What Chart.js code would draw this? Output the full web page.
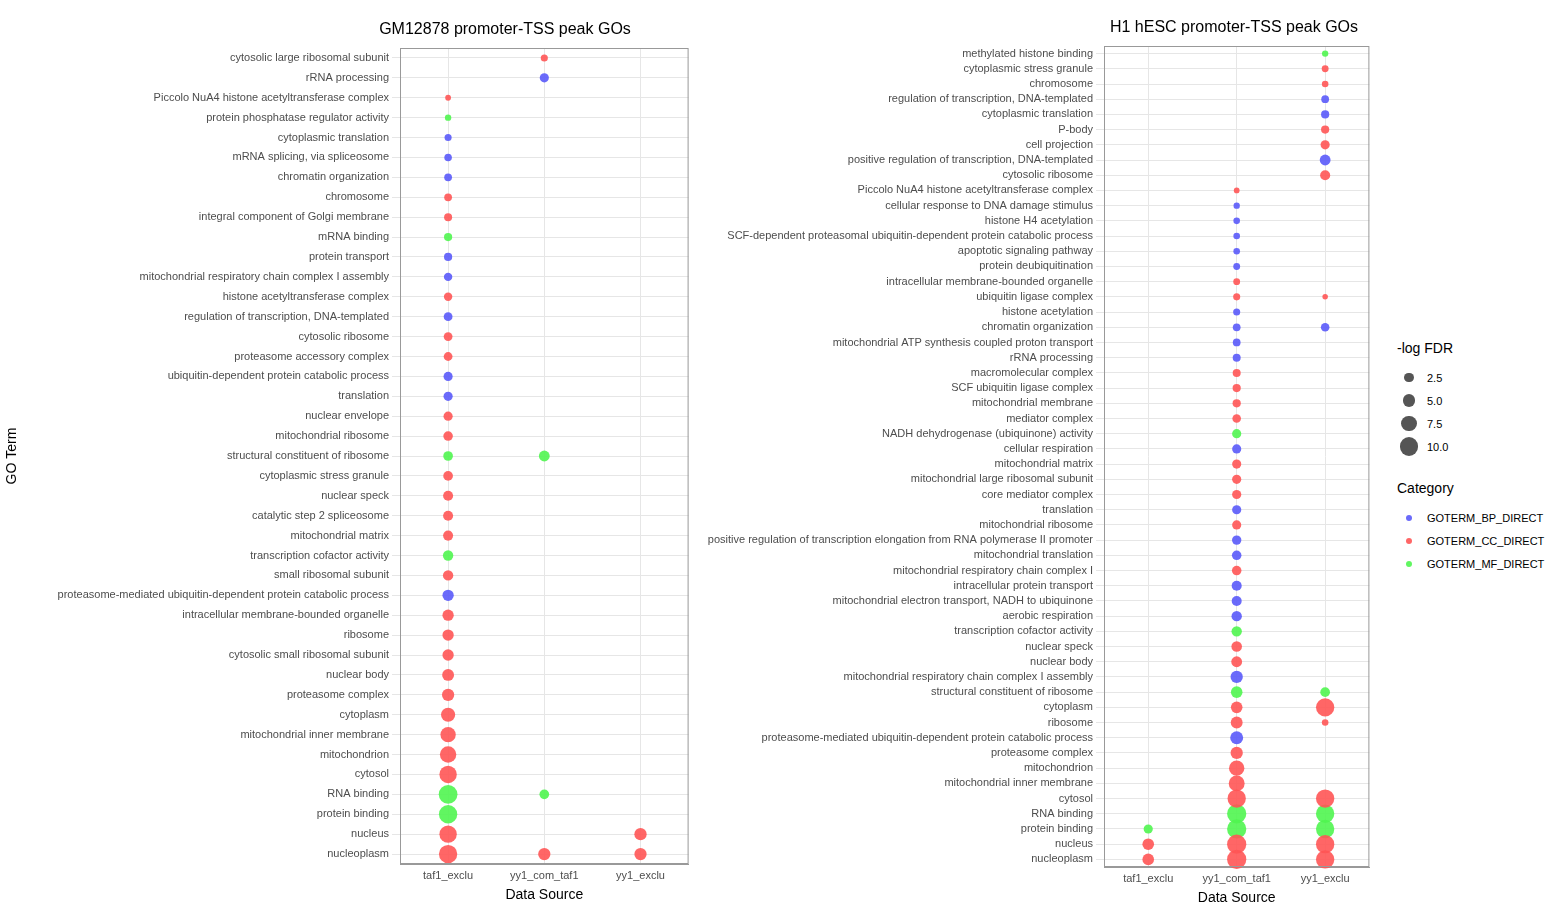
<!DOCTYPE html>
<html><head><meta charset="utf-8">
<script src="https://cdn.jsdelivr.net/npm/chart.js@4"></script>
<style>
body{margin:0;background:#fff;font-family:"Liberation Sans",Arial,sans-serif;}
.c{position:absolute;top:0;height:910px;}
.t{position:absolute;font-size:16px;color:#000;white-space:nowrap;transform:translateX(-50%);}
#legend{position:absolute;left:1397px;top:340px;font-size:11px;color:#000;}
#legend h4{margin:0 0 10px 0;font-size:14px;font-weight:normal;}
.row{display:flex;align-items:center;height:23px;}
.sw{width:24px;display:flex;justify-content:center;align-items:center;margin-right:6px;}
.sw span{display:block;border-radius:50%;}
</style></head><body>
<div class="c" style="left:0;width:698px"><canvas id="left"></canvas></div>
<div class="c" style="left:700px;width:679px"><canvas id="right"></canvas></div>
<div class="t" style="left:505px;top:20px">GM12878 promoter-TSS peak GOs</div>
<div class="t" style="left:1234px;top:18px">H1 hESC promoter-TSS peak GOs</div>
<div id="legend"></div>
<script>
const sources=["taf1_exclu","yy1_com_taf1","yy1_exclu"];
const catNames=["GOTERM_BP_DIRECT","GOTERM_CC_DIRECT","GOTERM_MF_DIRECT"];
const catColors=["rgba(90,90,250,0.9)","rgba(255,85,85,0.9)","rgba(80,245,80,0.9)"];

// left panel: GM12878
const leftTerms=["cytosolic large ribosomal subunit","rRNA processing","Piccolo NuA4 histone acetyltransferase complex","protein phosphatase regulator activity","cytoplasmic translation","mRNA splicing, via spliceosome","chromatin organization","chromosome","integral component of Golgi membrane","mRNA binding","protein transport","mitochondrial respiratory chain complex I assembly","histone acetyltransferase complex","regulation of transcription, DNA-templated","cytosolic ribosome","proteasome accessory complex","ubiquitin-dependent protein catabolic process","translation","nuclear envelope","mitochondrial ribosome","structural constituent of ribosome","cytoplasmic stress granule","nuclear speck","catalytic step 2 spliceosome","mitochondrial matrix","transcription cofactor activity","small ribosomal subunit","proteasome-mediated ubiquitin-dependent protein catabolic process","intracellular membrane-bounded organelle","ribosome","cytosolic small ribosomal subunit","nuclear body","proteasome complex","cytoplasm","mitochondrial inner membrane","mitochondrion","cytosol","RNA binding","protein binding","nucleus","nucleoplasm"];
const leftCat=[1,0,1,2,0,0,0,1,1,2,0,0,1,0,1,1,0,0,1,1,2,1,1,1,1,2,1,0,1,1,1,1,1,1,1,1,1,2,2,1,1];
const leftTaf1=[null,null,1.0,1.2,1.5,1.7,1.8,1.8,1.9,2.0,2.0,2.1,2.1,2.3,2.3,2.3,2.5,2.5,2.5,2.7,2.8,2.8,3.0,3.0,3.0,3.2,3.2,3.8,3.8,3.8,3.8,4.2,4.5,6.0,7.0,8.0,9.0,10.5,10.0,9.0,10.0];
const leftYyCom={"cytosolic large ribosomal subunit":1.5,"rRNA processing":2.5,"structural constituent of ribosome":3.5,"RNA binding":2.8,"nucleoplasm":4.5};
const leftYyExclu={"nucleus":4.5,"nucleoplasm":4.5};

// right panel: H1 hESC
const rightTerms=["methylated histone binding","cytoplasmic stress granule","chromosome","regulation of transcription, DNA-templated","cytoplasmic translation","P-body","cell projection","positive regulation of transcription, DNA-templated","cytosolic ribosome","Piccolo NuA4 histone acetyltransferase complex","cellular response to DNA damage stimulus","histone H4 acetylation","SCF-dependent proteasomal ubiquitin-dependent protein catabolic process","apoptotic signaling pathway","protein deubiquitination","intracellular membrane-bounded organelle","ubiquitin ligase complex","histone acetylation","chromatin organization","mitochondrial ATP synthesis coupled proton transport","rRNA processing","macromolecular complex","SCF ubiquitin ligase complex","mitochondrial membrane","mediator complex","NADH dehydrogenase (ubiquinone) activity","cellular respiration","mitochondrial matrix","mitochondrial large ribosomal subunit","core mediator complex","translation","mitochondrial ribosome","positive regulation of transcription elongation from RNA polymerase II promoter","mitochondrial translation","mitochondrial respiratory chain complex I","intracellular protein transport","mitochondrial electron transport, NADH to ubiquinone","aerobic respiration","transcription cofactor activity","nuclear speck","nuclear body","mitochondrial respiratory chain complex I assembly","structural constituent of ribosome","cytoplasm","ribosome","proteasome-mediated ubiquitin-dependent protein catabolic process","proteasome complex","mitochondrion","mitochondrial inner membrane","cytosol","RNA binding","protein binding","nucleus","nucleoplasm"];
const rightCat=[2,1,1,0,0,1,1,0,1,1,0,0,0,0,0,1,1,0,0,0,0,1,1,1,1,2,0,1,1,1,0,1,0,0,1,0,0,0,2,1,1,0,2,1,1,0,1,1,1,1,2,2,1,1];
const rightTaf1={"protein binding":2.5,"nucleus":4.0,"nucleoplasm":4.0};
const rightYyCom=[null,null,null,null,null,null,null,null,null,1.0,1.2,1.3,1.3,1.3,1.4,1.4,1.5,1.5,1.8,1.8,1.9,1.9,2.0,2.0,2.2,2.5,2.5,2.5,2.5,2.5,2.5,2.5,2.6,2.7,2.7,3.0,3.0,3.2,3.2,3.3,3.5,4.5,4.0,4.0,4.2,5.0,4.5,7.0,7.5,10,11,11,11,11];
const rightYyExclu={"methylated histone binding":1.2,"cytoplasmic stress granule":1.4,"chromosome":1.3,"regulation of transcription, DNA-templated":1.8,"cytoplasmic translation":2.0,"P-body":2.0,"cell projection":2.5,"positive regulation of transcription, DNA-templated":3.5,"cytosolic ribosome":3.0,"ubiquitin ligase complex":0.9,"chromatin organization":2.2,"structural constituent of ribosome":2.8,"cytoplasm":10,"ribosome":1.3,"cytosol":10,"RNA binding":10,"protein binding":10,"nucleus":10,"nucleoplasm":10};

const sizeBreaks=[2.5,5.0,7.5,10.0];
const rad=v=>Math.sqrt(v)*2.9;

function buildSets(terms,cats,cols){
  return catNames.map((n,ci)=>{
    const pts=[];
    terms.forEach((t,i)=>{
      if(cats[i]!==ci) return;
      cols.forEach((c,si)=>{
        const v=Array.isArray(c)?c[i]:c[t];
        if(v!=null) pts.push({x:sources[si],y:t,r:rad(v)});
      });
    });
    return {label:n,data:pts,backgroundColor:catColors[ci],borderWidth:0};
  });
}

const frame={id:'frame',afterDraw(c){const a=c.chartArea,x=c.ctx;x.save();x.strokeStyle='#999';x.lineWidth=1;x.strokeRect(a.left+0.5,a.top+0.5,a.right-a.left-1,a.bottom-a.top-1);x.restore();}};

function makeChart(id,terms,sets,yw,showY,pad){
  new Chart(document.getElementById(id),{
    type:'bubble',
    data:{datasets:sets},
    plugins:[frame],
    options:{
      responsive:true,maintainAspectRatio:false,animation:false,
      layout:{padding:pad},
      plugins:{legend:{display:false},tooltip:{enabled:false}},
      scales:{
        x:{type:'category',labels:sources,offset:true,
          grid:{color:'#e6e6e6',offset:false,drawTicks:false},border:{color:'#999'},
          ticks:{color:'#4d4d4d',font:{size:11},padding:5},
          title:{display:true,text:'Data Source',color:'#000',font:{size:14},padding:0}},
        y:{type:'category',labels:terms,offset:true,
          grid:{color:'#e6e6e6',offset:false},border:{color:'#999'},
          ticks:{color:'#4d4d4d',font:{size:11},autoSkip:false},
          title:{display:showY,text:'GO Term',color:'#000',font:{size:14}},
          afterFit:s=>{s.width=yw;}}
      }
    }
  });
}

makeChart('left',leftTerms,buildSets(leftTerms,leftCat,[leftTaf1,leftYyCom,leftYyExclu]),400,true,{top:48,right:4,bottom:6,left:0});
makeChart('right',rightTerms,buildSets(rightTerms,rightCat,[rightTaf1,rightYyCom,rightYyExclu]),404,false,{top:46,right:4,bottom:3,left:0});

// legend
let h='<h4>-log FDR</h4>';
sizeBreaks.forEach(b=>{const d=rad(b)*2;h+=`<div class="row"><div class="sw"><span style="width:${d}px;height:${d}px;background:#555"></span></div>${b.toFixed(1)}</div>`;});
h+='<h4 style="margin-top:22px">Category</h4>';
catNames.forEach((n,i)=>{h+=`<div class="row"><div class="sw"><span style="width:6px;height:6px;background:${catColors[i]}"></span></div>${n}</div>`;});
document.getElementById('legend').innerHTML=h;
</script>
</body></html>
